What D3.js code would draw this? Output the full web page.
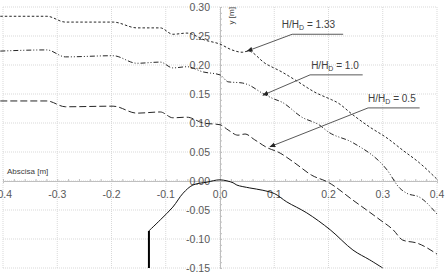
<!DOCTYPE html>
<html>
<head>
<meta charset="utf-8">
<script src="https://cdn.jsdelivr.net/npm/d3@7"></script>
<style>
  body { margin: 0; background: #fff; }
  svg { display: block; font-family: "Liberation Sans", Arial, sans-serif; }
  .tick-label { fill: #595959; font-size: 10.5px; }
  .ann { fill: #404040; font-size: 10px; }
  .axis-title { fill: #404040; font-size: 8px; }
</style>
</head>
<body>
<svg id="chart"></svg>
<script>
// ticks
const xTicks = [-0.4, -0.3, -0.2, -0.1, 0.0, 0.1, 0.2, 0.3, 0.4];
const yTicks = [-0.15, -0.10, -0.05, 0.00, 0.05, 0.10, 0.15, 0.20, 0.25, 0.30];

// free surface profiles
const h133X = [-0.405, -0.319, -0.285, -0.197, -0.153, -0.110, -0.087, -0.061, -0.028, 0.000, 0.022, 0.041, 0.052, 0.083, 0.114, 0.144, 0.175, 0.206, 0.215, 0.245, 0.276, 0.308, 0.337, 0.368, 0.400];
const h133Y = [0.284, 0.284, 0.274, 0.274, 0.264, 0.264, 0.253, 0.255, 0.243, 0.236, 0.226, 0.222, 0.224, 0.203, 0.188, 0.171, 0.153, 0.140, 0.136, 0.114, 0.093, 0.074, 0.053, 0.031, 0.003];

const h10X = [-0.405, -0.319, -0.285, -0.197, -0.153, -0.110, -0.087, -0.061, -0.031, 0.000, 0.015, 0.041, 0.052, 0.077, 0.098, 0.114, 0.151, 0.184, 0.199, 0.245, 0.308, 0.331, 0.344, 0.368, 0.400];
const h10Y = [0.224, 0.226, 0.214, 0.216, 0.203, 0.205, 0.195, 0.197, 0.188, 0.183, 0.171, 0.169, 0.166, 0.152, 0.142, 0.136, 0.110, 0.096, 0.085, 0.066, 0.019, -0.012, -0.021, -0.028, -0.057];

const h05X = [-0.405, -0.319, -0.285, -0.197, -0.153, -0.110, -0.087, -0.061, -0.031, 0.000, 0.015, 0.033, 0.046, 0.064, 0.088, 0.107, 0.138, 0.169, 0.199, 0.245, 0.295, 0.319, 0.337, 0.363, 0.400];
const h05Y = [0.138, 0.138, 0.128, 0.129, 0.117, 0.119, 0.109, 0.110, 0.100, 0.097, 0.088, 0.079, 0.081, 0.071, 0.057, 0.050, 0.031, 0.010, -0.002, -0.033, -0.067, -0.084, -0.102, -0.107, -0.126];

// weir crest profile
const crestX = [-0.131, -0.110, -0.087, -0.068, -0.050, -0.024, 0.000, 0.024, 0.031, 0.055, 0.079, 0.101, 0.123, 0.160, 0.203, 0.245, 0.276, 0.300];
const crestY = [-0.086, -0.067, -0.045, -0.021, -0.007, -0.002, 0.002, -0.003, -0.007, -0.012, -0.016, -0.022, -0.036, -0.055, -0.084, -0.119, -0.136, -0.150];
const faceX = [-0.131, -0.131];
const faceY = [-0.150, -0.086];

// callouts: label, arrow tip, underline start/end and label start (data units)
const annLabels = ['1.33', '1.0', '0.5'];
const annTipX = [0.050, 0.079, 0.092];
const annTipY = [0.224, 0.148, 0.059];
const annX0 = [0.133, 0.166, 0.273];
const annX1 = [0.227, 0.263, 0.368];
const annY = [0.253, 0.183, 0.126];
const annTextX = [0.114, 0.168, 0.273];

const width = 447, height = 274;

const svg = d3.select('#chart')
    .attr('width', width)
    .attr('height', height);

const xScale = d3.scaleLinear().domain([-0.4, 0.4]).range([3, 437]);
const yScale = d3.scaleLinear().domain([-0.15, 0.30]).range([268, 7]);

// gridlines
svg.append('g').selectAll('line')
    .data(xTicks)
    .join('line')
    .attr('x1', d => xScale(d)).attr('x2', d => xScale(d))
    .attr('y1', yScale(0.30)).attr('y2', yScale(-0.15))
    .attr('stroke', '#d9d9d9')
    .attr('stroke-dasharray', '1,1');

svg.append('g').selectAll('line')
    .data(yTicks)
    .join('line')
    .attr('x1', xScale(-0.4)).attr('x2', xScale(0.4))
    .attr('y1', d => yScale(d)).attr('y2', d => yScale(d))
    .attr('stroke', '#d9d9d9')
    .attr('stroke-dasharray', '1,1');

// axes through the origin
const xAxis = d3.axisBottom(xScale)
    .tickValues(d3.range(-0.4, 0.401, 0.02))
    .tickSize(2)
    .tickFormat('');
const xAxisG = svg.append('g')
    .attr('transform', `translate(0,${yScale(0)})`)
    .call(xAxis);
xAxisG.select('.domain').attr('stroke', '#bfbfbf');
xAxisG.selectAll('.tick line').attr('stroke', '#bfbfbf').attr('y1', -2).attr('y2', 0);

const yAxis = d3.axisRight(yScale)
    .tickValues(d3.range(-0.15, 0.301, 0.01))
    .tickSize(2)
    .tickFormat('');
const yAxisG = svg.append('g')
    .attr('transform', `translate(${xScale(0)},0)`)
    .call(yAxis);
yAxisG.select('.domain').attr('stroke', '#bfbfbf');
yAxisG.selectAll('.tick line').attr('stroke', '#bfbfbf');

// tick labels
svg.append('g').selectAll('text')
    .data(xTicks)
    .join('text')
    .attr('class', 'tick-label')
    .attr('x', d => xScale(d))
    .attr('y', yScale(0) + 17)
    .attr('text-anchor', 'middle')
    .text(d => d3.format('.1f')(d).replace('−', '-'));

svg.append('g').selectAll('text')
    .data(yTicks)
    .join('text')
    .attr('class', 'tick-label')
    .attr('x', xScale(0) - 10)
    .attr('y', d => yScale(d) + 4)
    .attr('text-anchor', 'end')
    .text(d => d3.format('.2f')(d).replace('−', '-'));

// axis titles
svg.append('text')
    .attr('class', 'axis-title')
    .attr('x', 7)
    .attr('y', yScale(0) - 7)
    .text('Abscisa [m]');

svg.append('text')
    .attr('class', 'axis-title')
    .attr('transform', `translate(${xScale(0) + 14},${yScale(0.27)}) rotate(-90)`)
    .text('y [m]');

// lines
const line = d3.line()
    .x(d => xScale(d[0]))
    .y(d => yScale(d[1]))
    .curve(d3.curveMonotoneX);

const series = [
    { xs: h133X, ys: h133Y, dash: '2.5,2' },
    { xs: h10X, ys: h10Y, dash: '5,2,1,2,1,2' },
    { xs: h05X, ys: h05Y, dash: '7,3' }
];

svg.append('g').selectAll('path')
    .data(series)
    .join('path')
    .attr('fill', 'none')
    .attr('stroke', '#262626')
    .attr('stroke-width', 1)
    .attr('stroke-dasharray', d => d.dash)
    .attr('d', d => line(d.xs.map((x, i) => [x, d.ys[i]])));

const crestLine = d3.line()
    .x(d => xScale(d[0]))
    .y(d => yScale(d[1]))
    .curve(d3.curveCatmullRom);

svg.append('path')
    .attr('fill', 'none')
    .attr('stroke', '#111')
    .attr('stroke-width', 1)
    .attr('d', crestLine(crestX.map((x, i) => [x, crestY[i]])));

svg.append('path')
    .attr('fill', 'none')
    .attr('stroke', '#000')
    .attr('stroke-width', 2)
    .attr('d', d3.line().x(d => xScale(d[0])).y(d => yScale(d[1]))(faceX.map((x, i) => [x, faceY[i]])));

// annotations
svg.append('defs').append('marker')
    .attr('id', 'arrow')
    .attr('viewBox', '0 0 10 10')
    .attr('refX', 9).attr('refY', 5)
    .attr('markerWidth', 6).attr('markerHeight', 6)
    .attr('orient', 'auto')
    .append('path')
    .attr('d', 'M0,1 L10,5 L0,9 Z')
    .attr('fill', '#262626');

annLabels.forEach((lab, i) => {
    const g = svg.append('g');
    g.append('polyline')
        .attr('points', `${xScale(annX1[i])},${yScale(annY[i])} ${xScale(annX0[i])},${yScale(annY[i])} ${xScale(annTipX[i])},${yScale(annTipY[i])}`)
        .attr('fill', 'none')
        .attr('stroke', '#595959')
        .attr('stroke-width', 1)
        .attr('marker-end', 'url(#arrow)');
    const t = g.append('text')
        .attr('class', 'ann')
        .attr('x', xScale(annTextX[i]))
        .attr('y', yScale(annY[i]) - 6);
    t.append('tspan').text('H/H');
    t.append('tspan').attr('dy', 2).attr('font-size', '7px').text('D');
    t.append('tspan').attr('dy', -2).text(' = ' + lab);
});
</script>
</body>
</html>
